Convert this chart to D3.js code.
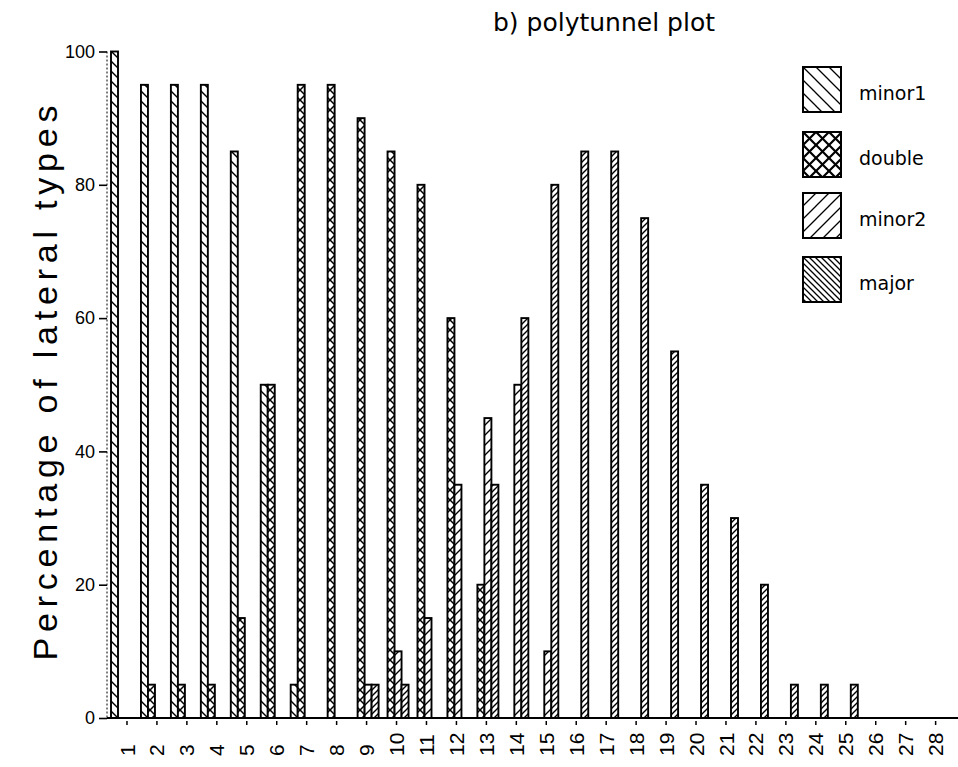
<!DOCTYPE html>
<html>
<head>
<meta charset="utf-8">
<script src="https://cdn.jsdelivr.net/npm/d3@7"></script>
<style>
body { margin: 0; background: #fff; }
</style>
</head>
<body>
<div id="chart"></div>
<script>
// node positions along the shoot
var nodes = ["1","2","3","4","5","6","7","8","9","10","11","12","13","14",
             "15","16","17","18","19","20","21","22","23","24","25","26","27","28"];
var types = ["minor1", "double", "minor2", "major"];
var yTicks = [0, 20, 40, 60, 80, 100];

// percentage of lateral types at each node
var minor1 = [100, 95, 95, 95, 85, 50, 5, 0, 0, 0, 0, 0, 0, 0, 0, 0, 0, 0, 0, 0, 0, 0, 0, 0, 0, 0, 0, 0];
var double = [0, 5, 5, 5, 15, 50, 95, 95, 90, 85, 80, 60, 20, 0, 0, 0, 0, 0, 0, 0, 0, 0, 0, 0, 0, 0, 0, 0];
var minor2 = [0, 0, 0, 0, 0, 0, 0, 0, 5, 10, 15, 35, 45, 50, 10, 0, 0, 0, 0, 0, 0, 0, 0, 0, 0, 0, 0, 0];
var major  = [0, 0, 0, 0, 0, 0, 0, 0, 5, 5, 0, 0, 35, 60, 80, 85, 85, 75, 55, 35, 30, 20, 5, 5, 5, 0, 0, 0];

(function() {
    var width = 958;
    var height = 767;
    var svg = d3.select("#chart").append("svg")
        .attr("width", width)
        .attr("height", height)
        .style("font-family", "'Liberation Sans', Arial, sans-serif");

    var series = { minor1: minor1, double: double, minor2: minor2, major: major };

    // hatch fills like the old plotter output
    var defs = svg.append("defs");
    function hatch(id, s, dirs, sw) {
        var p = defs.append("pattern")
            .attr("id", id)
            .attr("patternUnits", "userSpaceOnUse")
            .attr("width", s)
            .attr("height", s);
        p.append("rect").attr("width", s).attr("height", s).attr("fill", "#fff");
        dirs.forEach(function(d) {
            var path;
            if (d == "back") {
                path = "M-2,-2L" + (s + 2) + "," + (s + 2) +
                       "M-2," + (s - 2) + "L2," + (s + 2) +
                       "M" + (s - 2) + ",-2L" + (s + 2) + ",2";
            } else {
                path = "M-2," + (s + 2) + "L" + (s + 2) + ",-2" +
                       "M-2,2L2,-2" +
                       "M" + (s - 2) + "," + (s + 2) + "L" + (s + 2) + "," + (s - 2);
            }
            p.append("path").attr("d", path)
                .attr("stroke", "#000")
                .attr("stroke-width", sw)
                .attr("fill", "none");
        });
    }
    // legend boxes
    hatch("l-minor1", 13, ["back"], 1.3);
    hatch("l-double", 13, ["back", "fwd"], 2.2);
    hatch("l-minor2", 13, ["fwd"], 1.3);
    hatch("l-major", 6, ["back"], 1.3);
    // thin bars (denser so the texture shows)
    hatch("b-minor1", 10, ["back"], 1.4);
    hatch("b-double", 10, ["back", "fwd"], 1.5);
    hatch("b-minor2", 10, ["fwd"], 1.4);
    hatch("b-major", 6, ["fwd"], 1.4);

    var x = d3.scaleBand()
        .domain(nodes)
        .range([110, 110 + 28 * 29.95])
        .paddingInner(0);

    var xs = d3.scaleBand()
        .domain(types)
        .range([1, 29]);

    var y = d3.scaleLinear()
        .domain([0, 100])
        .range([718, 51.5]);

    // bars
    types.forEach(function(t) {
        var vals = nodes.map(function(n, i) { return { node: n, v: series[t][i] }; })
            .filter(function(d) { return d.v > 0; });
        svg.append("g").selectAll("rect")
            .data(vals)
            .enter().append("rect")
            .attr("x", function(d) { return x(d.node) + xs(t); })
            .attr("width", xs.bandwidth())
            .attr("y", function(d) { return y(d.v); })
            .attr("height", function(d) { return y(0) - y(d.v); })
            .attr("fill", "url(#b-" + t + ")")
            .attr("stroke", "#000")
            .attr("stroke-width", 1.9);
    });

    // x axis
    svg.append("line")
        .attr("x1", 107).attr("x2", 958)
        .attr("y1", y(0)).attr("y2", y(0))
        .attr("stroke", "#000")
        .attr("stroke-width", 2.2);

    var xAxis = svg.append("g")
        .attr("transform", "translate(2," + (y(0) + 3) + ")")
        .call(d3.axisBottom(x).tickSize(4).tickSizeOuter(0));
    xAxis.select(".domain").remove();
    xAxis.selectAll("line").attr("stroke-width", 1.5);
    xAxis.selectAll("text")
        .attr("transform", "rotate(-90)")
        .attr("text-anchor", "start")
        .attr("x", -35)
        .attr("y", 0)
        .attr("dy", "0.36em")
        .style("font-size", "21px")
        .style("font-family", "'Liberation Sans', Arial, sans-serif")
        .attr("fill", "#000");

    // y axis
    svg.append("line")
        .attr("x1", 107).attr("x2", 107)
        .attr("y1", y(100)).attr("y2", y(0))
        .attr("stroke", "#000")
        .attr("stroke-width", 1)
        .attr("stroke-dasharray", "2,2");

    var yAxis = svg.append("g")
        .attr("transform", "translate(107,0)")
        .call(d3.axisLeft(y).tickValues(yTicks).tickSize(8).tickPadding(4));
    yAxis.select(".domain").remove();
    yAxis.selectAll("line").attr("stroke-width", 1.6);
    yAxis.selectAll("text")
        .style("font-size", "18px")
        .style("font-family", "'Liberation Sans', Arial, sans-serif")
        .attr("fill", "#000");

    svg.append("text")
        .attr("transform", "translate(57,383) rotate(-90)")
        .attr("text-anchor", "middle")
        .attr("textLength", 555)
        .attr("lengthAdjust", "spacing")
        .style("font-size", "34px")
        .text("Percentage of lateral types");

    // title
    svg.append("text")
        .attr("x", 604)
        .attr("y", 31)
        .attr("text-anchor", "middle")
        .style("font-size", "25px")
        .style("font-family", "'DejaVu Sans', sans-serif")
        .text("b) polytunnel plot");

    // legend
    var legendTop = [67, 132, 193, 257];
    var legend = svg.append("g").selectAll("g")
        .data(types)
        .enter().append("g")
        .attr("transform", function(d, i) { return "translate(803," + legendTop[i] + ")"; });
    legend.append("rect")
        .attr("width", 38)
        .attr("height", 45)
        .attr("fill", function(d) { return "url(#l-" + d + ")"; })
        .attr("stroke", "#000")
        .attr("stroke-width", 2);
    legend.append("text")
        .attr("x", 56)
        .attr("y", 26)
        .attr("dy", "0.35em")
        .style("font-size", "19px")
        .style("font-family", "'DejaVu Sans', sans-serif")
        .text(function(d) { return d; });
})();
</script>
</body>
</html>
